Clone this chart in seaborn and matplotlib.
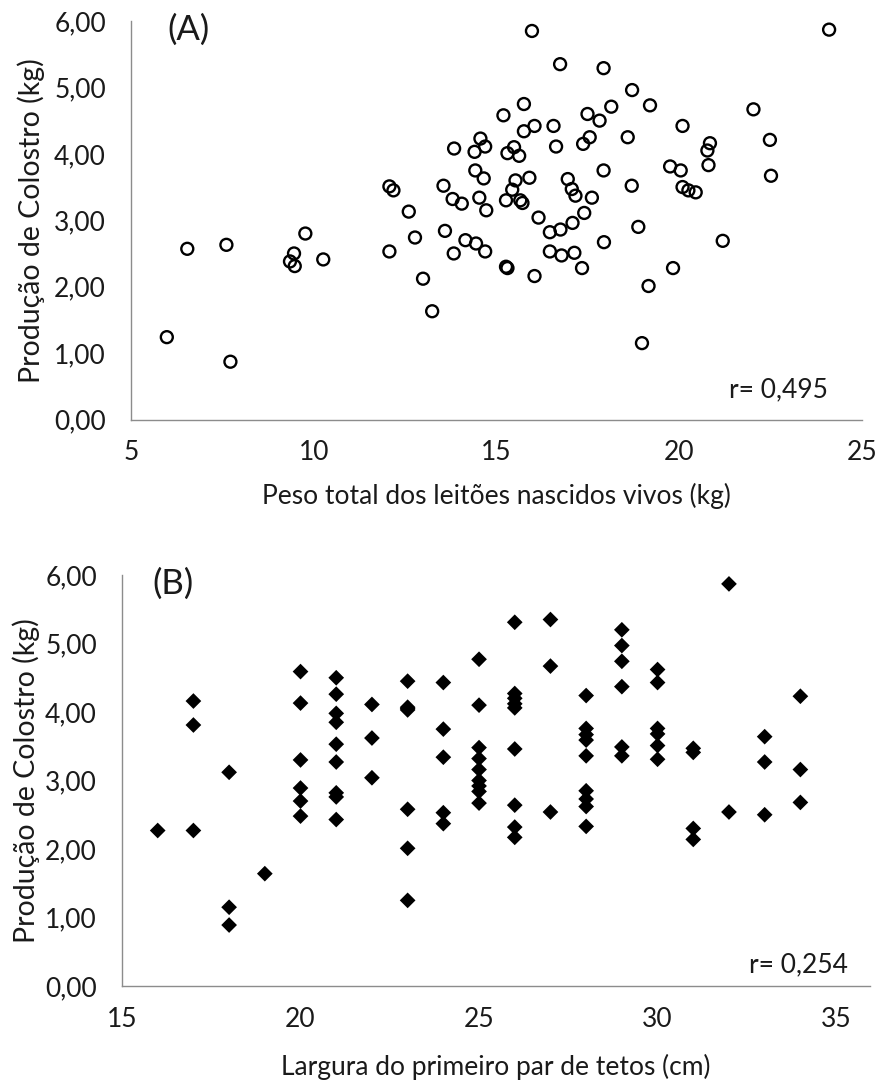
import matplotlib
matplotlib.use("Agg")
import matplotlib.pyplot as plt
import seaborn as sns
import pandas as pd
from matplotlib.ticker import FuncFormatter

# ---------------- data ----------------
# Panel A: peso total dos leitões nascidos vivos (kg) vs produção de colostro (kg)
peso_total = [5.98, 6.54, 7.61, 7.72, 9.35, 9.46, 9.48, 9.77, 10.26,
              12.07, 12.18, 12.07, 12.60, 12.77, 12.99, 13.24, 13.59, 13.83,
              14.15, 14.44, 14.69, 15.26, 15.30, 16.04, 16.15, 16.46, 16.75,
              17.08, 17.40, 16.46, 16.78, 17.13, 17.34, 17.94, 15.97, 16.74,
              17.93, 18.71, 15.75, 15.19, 16.04, 15.75, 16.56, 17.49, 17.82,
              18.14, 18.59, 14.56, 14.69, 14.40, 13.84, 15.48, 15.30, 15.62,
              16.63, 17.55, 17.37, 17.93, 18.70, 14.42, 14.65, 13.55, 13.80,
              14.05, 14.53, 14.72, 15.52, 15.90, 15.43, 15.26, 15.65, 15.71,
              16.95, 17.06, 17.16, 17.61, 24.10, 19.20, 22.03, 20.09, 20.84,
              20.77, 22.48, 20.80, 19.75, 20.04, 20.09, 20.25, 20.45, 22.51,
              18.88, 21.19, 19.83, 19.16, 18.98]
colostro_a = [1.24, 2.57, 2.63, 0.87, 2.38, 2.50, 2.31, 2.80, 2.41,
              3.51, 3.45, 2.53, 3.13, 2.74, 2.12, 1.63, 2.84, 2.50,
              2.70, 2.65, 2.53, 2.30, 2.28, 2.16, 3.04, 2.82, 2.86,
              2.96, 3.11, 2.53, 2.47, 2.51, 2.28, 2.67, 5.85, 5.35,
              5.29, 4.96, 4.75, 4.58, 4.42, 4.34, 4.42, 4.60, 4.50,
              4.71, 4.25, 4.23, 4.11, 4.03, 4.08, 4.10, 4.01, 3.97,
              4.11, 4.25, 4.15, 3.75, 3.52, 3.75, 3.63, 3.52, 3.32,
              3.25, 3.34, 3.15, 3.60, 3.64, 3.46, 3.30, 3.30, 3.26,
              3.62, 3.47, 3.37, 3.34, 5.87, 4.73, 4.67, 4.42, 4.16,
              4.05, 4.21, 3.83, 3.81, 3.75, 3.50, 3.45, 3.42, 3.67,
              2.90, 2.69, 2.28, 2.01, 1.15]

# Panel B: largura do primeiro par de tetos (cm) vs produção de colostro (kg)
largura = [16, 17, 17, 17, 18, 18, 18, 19,
           20, 20, 20, 20, 20, 20,
           21, 21, 21, 21, 21, 21, 21, 21, 21,
           22, 22, 22,
           23, 23, 23, 23, 23, 23, 23,
           24, 24, 24, 24, 24,
           25, 25, 25, 25, 25, 25, 25, 25, 25,
           26, 26, 26, 26, 26, 26, 26, 26, 26,
           27, 27, 27,
           28, 28, 28, 28, 28, 28, 28, 28, 28,
           29, 29, 29, 29, 29, 29,
           30, 30, 30, 30, 30, 30,
           31, 31, 31, 31,
           32, 32,
           33, 33, 33,
           34, 34, 34]
colostro_b = [2.27, 4.16, 3.81, 2.27, 3.12, 1.15, 0.89, 1.64,
              4.59, 4.13, 3.30, 2.89, 2.70, 2.48,
              4.50, 4.26, 3.98, 3.85, 3.53, 3.27, 2.82, 2.76, 2.43,
              4.11, 3.62, 3.04,
              4.45, 4.07, 4.03, 2.58, 2.01, 1.25, 4.05,
              4.43, 3.75, 3.34, 2.53, 2.37,
              4.77, 4.10, 3.48, 3.32, 3.16, 3.00, 2.92, 2.84, 2.67,
              5.31, 4.27, 4.20, 4.12, 4.06, 3.46, 2.64, 2.32, 2.17,
              5.35, 4.67, 2.54,
              4.24, 3.76, 3.67, 3.59, 3.36, 2.85, 2.73, 2.62, 2.33,
              5.20, 4.97, 4.74, 4.37, 3.49, 3.36,
              4.62, 4.43, 3.76, 3.68, 3.51, 3.31,
              3.47, 3.41, 2.30, 2.14,
              5.87, 2.54,
              3.64, 3.27, 2.50,
              4.23, 3.16, 2.68]

y_ticks = [0, 1, 2, 3, 4, 5, 6]
xa_ticks = [5, 10, 15, 20, 25]
xb_ticks = [15, 20, 25, 30, 35]

label_y = "Produção de Colostro (kg)"
label_xa = "Peso total dos leitões nascidos vivos (kg)"
label_xb = "Largura do primeiro par de tetos (cm)"
r_a = "r= 0,495"
r_b = "r= 0,254"

df_a = pd.DataFrame({"x": peso_total, "y": colostro_a})
df_b = pd.DataFrame({"x": largura, "y": colostro_b})

# ---------------- style ----------------
sns.set_theme(style="white")
plt.rcParams["font.family"] = ["Lato", "DejaVu Sans"]
TXT = "#1a1a1a"
AX = "#8c8c8c"
FS = 19

W, H = 879, 1081
fig = plt.figure(figsize=(W / 100, H / 100), dpi=100)

axA = fig.add_axes([131 / W, 1 - 419.5 / H, (862 - 131) / W, (419.5 - 21) / H])
axB = fig.add_axes([122 / W, 1 - 986 / H, (870 - 122) / W, (986 - 575) / H])

sns.scatterplot(data=df_a, x="x", y="y", ax=axA, marker="o", s=74,
                facecolors="none", edgecolor="black", linewidth=1.7, zorder=3)
sns.scatterplot(data=df_b, x="x", y="y", ax=axB, marker="D", s=64,
                color="black", edgecolor="none", linewidth=0, zorder=3)

fmt = FuncFormatter(lambda v, p: f"{v:.2f}".replace(".", ","))


def style(ax, xlim, xticks, xlabel, ylab_x, xlab_y, tag, tag_xy, rtext, r_xy):
    ax.set_xlim(*xlim)
    ax.set_ylim(0, 6)
    ax.set_xticks(xticks)
    ax.set_yticks(y_ticks)
    ax.yaxis.set_major_formatter(fmt)
    for s in ["top", "right"]:
        ax.spines[s].set_visible(False)
    for s in ["left", "bottom"]:
        ax.spines[s].set_color(AX)
        ax.spines[s].set_linewidth(1.0)
    ax.tick_params(axis="both", direction="out", length=6, width=1.0,
                   color=AX, labelsize=FS, labelcolor=TXT)
    ax.tick_params(axis="y", pad=12)
    ax.tick_params(axis="x", pad=9)
    ax.set_xlabel(xlabel, fontsize=FS, color=TXT)
    ax.set_ylabel(label_y, fontsize=20.5, color=TXT)
    ax.yaxis.set_label_coords(ylab_x, 0.5)
    ax.xaxis.set_label_coords(0.5, xlab_y)
    ax.text(tag_xy[0], tag_xy[1], tag, transform=ax.transAxes, fontsize=25,
            color=TXT, ha="left", va="center")
    ax.text(r_xy[0], r_xy[1], rtext, transform=ax.transAxes, fontsize=FS,
            color=TXT, ha="right", va="center")
    ax.set_facecolor("white")


style(axA, (5, 25), xa_ticks, label_xa, -0.118, -0.160, "(A)", (0.05, 0.978),
      r_a, (0.953, 0.074))
style(axB, (15, 35.95), xb_ticks, label_xb, -0.110, -0.165, "(B)", (0.04, 0.978),
      r_b, (0.971, 0.052))

fig.savefig("out.png", dpi=100, facecolor="white")
